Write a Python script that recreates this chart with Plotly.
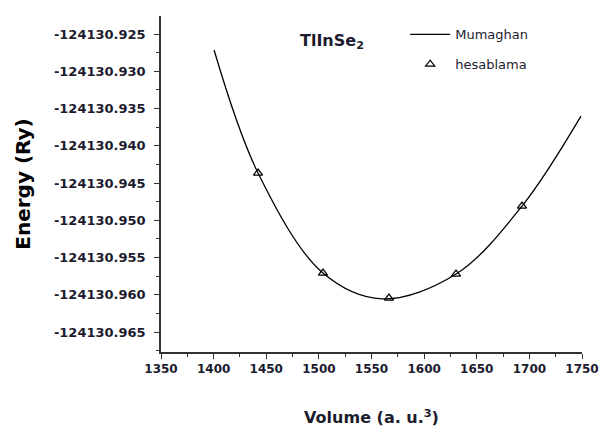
import plotly.graph_objects as go

# Murnaghan fit curve
curve_volume = [1400.4, 1442.2, 1503.9, 1560.0, 1630.3, 1693.0, 1749.0]
curve_energy = [-124130.92715, -124130.94366, -124130.95708, -124130.96055,
                -124130.95722, -124130.94809, -124130.93601]

# calculated points (hesablama)
calc_volume = [1442.2, 1503.9, 1566.6, 1630.3, 1693.0]
calc_energy = [-124130.94366, -124130.95708, -124130.96044, -124130.95722, -124130.94809]

# axis ticks
x_ticks = [1350, 1400, 1450, 1500, 1550, 1600, 1650, 1700, 1750]
y_ticks = [-124130.925, -124130.930, -124130.935, -124130.940, -124130.945,
           -124130.950, -124130.955, -124130.960, -124130.965]
y_tick_labels = ["-124130.925", "-124130.930", "-124130.935", "-124130.940", "-124130.945",
                 "-124130.950", "-124130.955", "-124130.960", "-124130.965"]

font_family = "DejaVu Sans"
ink = "#1c1c2e"

fig = go.Figure()
fig.add_trace(go.Scatter(
    x=curve_volume, y=curve_energy, mode="lines", name="Mumaghan",
    line=dict(color="black", width=1.3, shape="spline", smoothing=1.0),
    legendgroup="a",
))
fig.add_trace(go.Scatter(
    x=calc_volume, y=calc_energy, mode="markers", name="hesablama",
    marker=dict(symbol="triangle-up-open", size=8, color="black", line=dict(width=1.2, color="black")),
    legendgroup="b",
))

fig.update_layout(
    width=600, height=433,
    margin=dict(l=161, r=18, t=16, b=81),
    plot_bgcolor="white", paper_bgcolor="white",
    font=dict(family=font_family, color=ink),
    showlegend=True,
    legend=dict(
        x=0.58, y=0.99, xanchor="left", yanchor="top",
        bgcolor="rgba(0,0,0,0)", tracegroupgap=10,
        font=dict(size=13, family=font_family, color=ink),
        itemwidth=40,
    ),
    annotations=[dict(
        text="<b>TlInSe<sub>2</sub></b>", xref="paper", yref="paper",
        x=0.406, y=0.925, xanchor="center", yanchor="middle", showarrow=False,
        font=dict(size=16, family=font_family, color=ink),
    )],
)

fig.update_xaxes(
    range=[1350, 1750], tickvals=x_ticks,
    showline=True, linecolor="#333", linewidth=1.5, mirror=False,
    ticks="outside", ticklen=5, tickwidth=1.3, tickcolor="#333",
    minor=dict(dtick=25, tick0=1350, ticks="outside", ticklen=3, tickwidth=1.2, tickcolor="#333"),
    showgrid=False, zeroline=False, automargin=False,
    tickfont=dict(size=12, family=font_family, color=ink, weight="bold"),
    title=dict(text="<b>Volume (a. u.<sup>3</sup>)</b>", font=dict(size=16, family=font_family, color=ink), standoff=37),
)
fig.update_yaxes(
    range=[-124130.96768, -124130.92258], tickvals=y_ticks, ticktext=y_tick_labels,
    showline=True, linecolor="#333", linewidth=1.5, mirror=False,
    ticks="outside", ticklen=5, tickwidth=1.3, tickcolor="#333",
    minor=dict(dtick=0.0025, tick0=-124130.925, ticks="outside", ticklen=3, tickwidth=1.2, tickcolor="#333"),
    showgrid=False, zeroline=False, automargin=False, ticklabelstandoff=6,
    tickfont=dict(size=13, family=font_family, color=ink, weight="bold"),
    title=dict(text="<b>Energy (Ry)</b>", font=dict(size=20, family=font_family, color="black"), standoff=18),
)

fig.write_html(
    "out.html",
    config={"displayModeBar": False},
    post_script="document.body.style.margin='0';document.body.style.overflow='hidden';",
)
